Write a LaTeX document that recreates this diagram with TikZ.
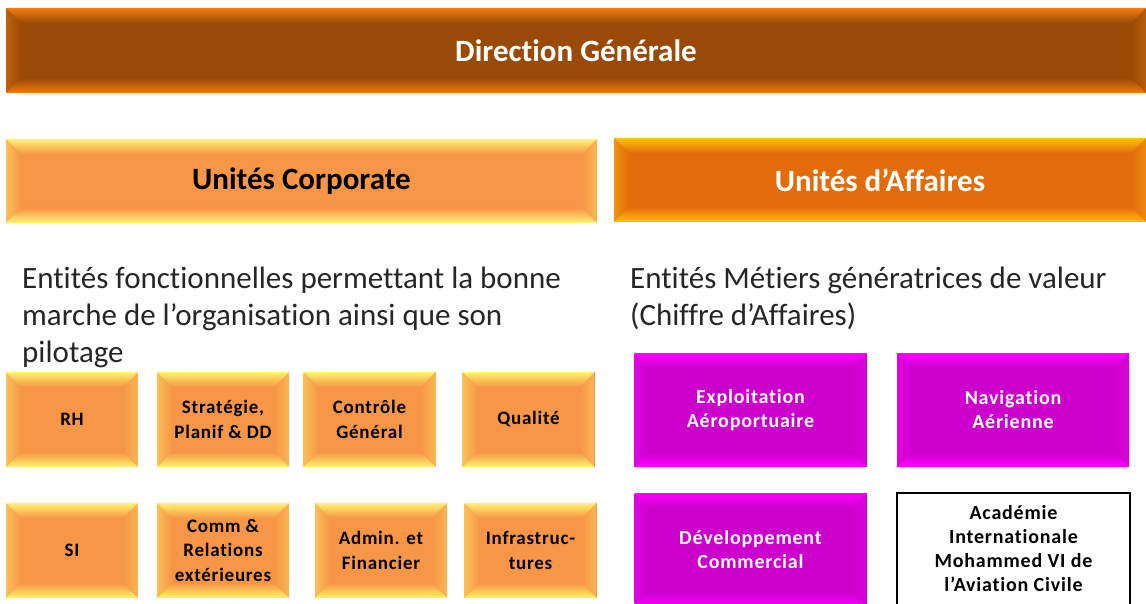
\documentclass[tikz,border=0pt]{standalone}
\usepackage{fontspec}
\setmainfont[Ligatures=NoCommon]{Carlito}
\newfontfamily\labelfont[LetterSpace=4,Ligatures=NoCommon]{Carlito}
\definecolor{dgbrown}{HTML}{9A4A07}
\definecolor{dglight}{HTML}{F27B0F}
\definecolor{corpfill}{HTML}{F79646}
\definecolor{corplight}{HTML}{FFF36E}
\definecolor{afffill}{HTML}{E36C0A}
\definecolor{afflight}{HTML}{FFC20E}
\definecolor{metfill}{HTML}{CC00CC}
\definecolor{metlight}{HTML}{FF00FF}
\begin{document}
\begin{tikzpicture}[x=1pt,y=-1pt,
    bevel/.style n args={3}{fill=#1, path picture={
        \path (path picture bounding box.north west) coordinate (bnw)
              (path picture bounding box.north east) coordinate (bne)
              (path picture bounding box.south west) coordinate (bsw)
              (path picture bounding box.south east) coordinate (bse)
              ([shift={(#3,-#3)}]bnw) coordinate (inw)
              ([shift={(-#3,-#3)}]bne) coordinate (ine)
              ([shift={(#3,#3)}]bsw) coordinate (isw)
              ([shift={(-#3,#3)}]bse) coordinate (ise);
        \shade[left color=#1!55!#2, right color=#1] (bnw) -- (inw) -- (isw) -- (bsw) -- cycle;
        \shade[left color=#1, right color=#1!65!#2] (bne) -- (ine) -- (ise) -- (bse) -- cycle;
        \shade[top color=#2, bottom color=#1] (bnw) -- (bne) -- (ine) -- (inw) -- cycle;
        \shade[top color=#1, bottom color=#2] (bsw) -- (bse) -- (ise) -- (isw) -- cycle;
    }},
    headbox/.style={inner sep=0pt, font=\bfseries\fontsize{31}{34}\selectfont},
    cell/.style={bevel={corpfill}{corplight}{15pt}, inner sep=0pt,
        minimum width=132pt, minimum height=95pt, align=center,
        font=\labelfont\bfseries\fontsize{19}{24.5}\selectfont},
    metier/.style={bevel={metfill}{metlight}{15pt}, inner sep=0pt, text=white,
        minimum width=232pt, minimum height=114pt, align=center,
        font=\labelfont\bfseries\fontsize{20}{24}\selectfont},
    intro/.style={anchor=base west, align=left, inner sep=0pt, text=black!85,
        font=\fontsize{31}{37}\selectfont}]
\useasboundingbox (0,0) rectangle (1146,604);

% top level
\node[headbox, bevel={dgbrown}{dglight}{15pt}, text=white,
    minimum width=1140pt, minimum height=85pt] (dg) at (576,50.5) {Direction Générale};
\node[headbox, bevel={corpfill}{corplight}{15pt},
    minimum width=591pt, minimum height=84pt] (corp) at (301.5,181) {Unités Corporate};
\node[headbox, bevel={afffill}{afflight}{15pt}, text=white,
    minimum width=532pt, minimum height=84pt] (aff) at (880,180) {Unités d’Affaires};

% descriptions (base = last line)
\node[intro] (corptxt) at (22,362) {Entités fonctionnelles permettant la bonne\\
    marche de l’organisation ainsi que son\\ pilotage};
\node[intro] (afftxt) at (630,325) {Entités Métiers génératrices de valeur\\
    (Chiffre d’Affaires)};

% corporate entities
\node[cell] (rh) at (72,419.5) {RH};
\node[cell] (strat) at (223,419.5) {Stratégie,\\ Planif \& DD};
\node[cell] (ctrl) at (369.5,419.5) {Contrôle\\ Général};
\node[cell] (qual) at (528.5,419.5) {Qualité};
\node[cell] (si) at (72,550.5) {SI};
\node[cell] (comm) at (223,550.5) {Comm \&\\ Relations\\ extérieures};
\node[cell] (admin) at (381,550.5) {Admin. et\\ Financier};
\node[cell] (infra) at (530.5,550.5) {Infrastruc-\\ tures};

% business entities
\node[metier] (expl) at (750.5,410) {Exploitation\\ Aéroportuaire};
\node[metier] (nav) at (1013,410) {Navigation\\ Aérienne};
\node[metier] (dev) at (750.5,550) {Développement\\ Commercial};
\node[draw=black, line width=2pt, fill=white, inner sep=0pt, minimum width=233pt,
    minimum height=112pt, align=center, font=\labelfont\bfseries\fontsize{20}{24}\selectfont]
    (acad) at (1013.5,549) {Académie\\ Internationale\\ Mohammed VI de\\ l’Aviation Civile};
\end{tikzpicture}
\end{document}
